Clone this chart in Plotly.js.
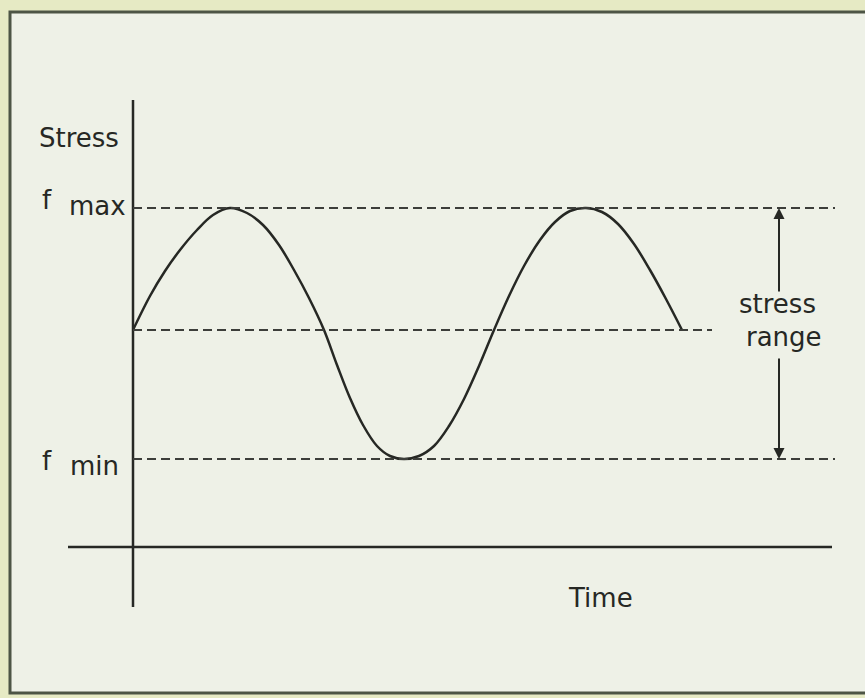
<!DOCTYPE html>
<html>
<head>
<meta charset="utf-8">
<script src="https://cdn.plot.ly/plotly-3.0.1.min.js"></script>
<style>
  html, body { margin: 0; padding: 0; background: #e6eac4; }
  #chart { width: 865px; height: 698px; }
</style>
</head>
<body>
<div id="chart"></div>
<script>
// ---- data (arbitrary time / stress units, mean stress = 0) ----
const waveTime   = [0, 17, 32, 47, 64, 80, 97,
                    114, 130, 146, 161, 176, 191,
                    204, 217, 230, 244, 257, 271,
                    286, 301, 316, 331, 346, 361,
                    376, 391, 407, 422, 437, 453,
                    469, 485, 501, 517, 533, 549];
const waveStress = [0, 34, 59, 80, 100, 115, 122,
                    117, 105, 85, 60, 32, 0,
                    -35, -68, -95, -116, -126, -129,
                    -126, -116, -96, -69, -36, 0,
                    34, 64, 90, 108, 119, 122,
                    118, 106, 86, 60, 31, 0];

const levelNames  = ["f max", "mean", "f min"];
const levelStress = [122, 0, -129];
const levelEnd    = [702, 579, 702];

const stressAxisSpan = [230, -277];   // vertical (stress) axis extent
const timeAxisSpan   = [-65, 699];    // horizontal (time) axis extent
const timeAxisLevel  = -217;

const rangeArrowTime = 646;
const rangeArrowGap  = [37, -27];     // stress where the arrow shafts stop around the label

const labelTexts = ["Stress", "f", "max", "f", "min", "Time", "stress", "range"];

// ---- drawing ----
const ink = "#262824";
const fontFam = "DejaVu Sans, Arial, sans-serif";
const fsz = 26;

const shapes = [];
// panel
shapes.push({type: "rect", xref: "paper", yref: "paper", x0: 10/865, x1: 1.02, y0: 1 - 693/698, y1: 1 - 12/698,
  line: {color: "#4d5545", width: 3}, fillcolor: "#eef1e7", layer: "below"});
// axes
shapes.push({type: "line", x0: 0, x1: 0, y0: stressAxisSpan[0], y1: stressAxisSpan[1], line: {color: ink, width: 2.5}});
shapes.push({type: "line", x0: timeAxisSpan[0], x1: timeAxisSpan[1], y0: timeAxisLevel, y1: timeAxisLevel, line: {color: ink, width: 2.5}});
// dashed levels
levelStress.forEach((s, i) => {
  shapes.push({type: "line", x0: 0, x1: levelEnd[i], y0: s, y1: s, line: {color: "#3c3e3a", width: 1.8, dash: "9px,5px"}});
});

const ann = [];
function txt(text, x, y, xanchor) {
  ann.push({text: text, x: x, y: y, xref: "x", yref: "y", xanchor: xanchor, yanchor: "middle",
    showarrow: false, font: {family: fontFam, size: fsz, color: ink}});
}
txt(labelTexts[0], -12, 192, "right");
txt(labelTexts[1], -93, 130, "left");
txt(labelTexts[2], -66, 124, "left");
txt(labelTexts[3], -93, -131, "left");
txt(labelTexts[4], -65, -136, "left");
txt(labelTexts[5], 467, -268, "center");
txt(labelTexts[6], 644, 26, "center");
txt(labelTexts[7], 651, -7, "center");

// stress range arrows
ann.push({x: rangeArrowTime, y: levelStress[0], ax: rangeArrowTime, ay: rangeArrowGap[0], xref: "x", yref: "y", axref: "x", ayref: "y",
  showarrow: true, arrowhead: 2, arrowsize: 1.1, arrowwidth: 2, arrowcolor: ink, text: ""});
ann.push({x: rangeArrowTime, y: levelStress[2], ax: rangeArrowTime, ay: rangeArrowGap[1], xref: "x", yref: "y", axref: "x", ayref: "y",
  showarrow: true, arrowhead: 2, arrowsize: 1.1, arrowwidth: 2, arrowcolor: ink, text: ""});

const traces = [{
  x: waveTime, y: waveStress, type: "scatter", mode: "lines",
  line: {color: ink, width: 2.5, shape: "spline", smoothing: 1},
  hoverinfo: "skip"
}];

const layout = {
  width: 865, height: 698,
  margin: {l: 0, r: 0, t: 0, b: 0, pad: 0},
  paper_bgcolor: "#e6eac4",
  plot_bgcolor: "rgba(0,0,0,0)",
  showlegend: false,
  xaxis: {range: [-133, 732], visible: false, fixedrange: true},
  yaxis: {range: [-368, 330], visible: false, fixedrange: true},
  shapes: shapes,
  annotations: ann
};

Plotly.newPlot("chart", traces, layout, {displayModeBar: false, staticPlot: true});
</script>
</body>
</html>
